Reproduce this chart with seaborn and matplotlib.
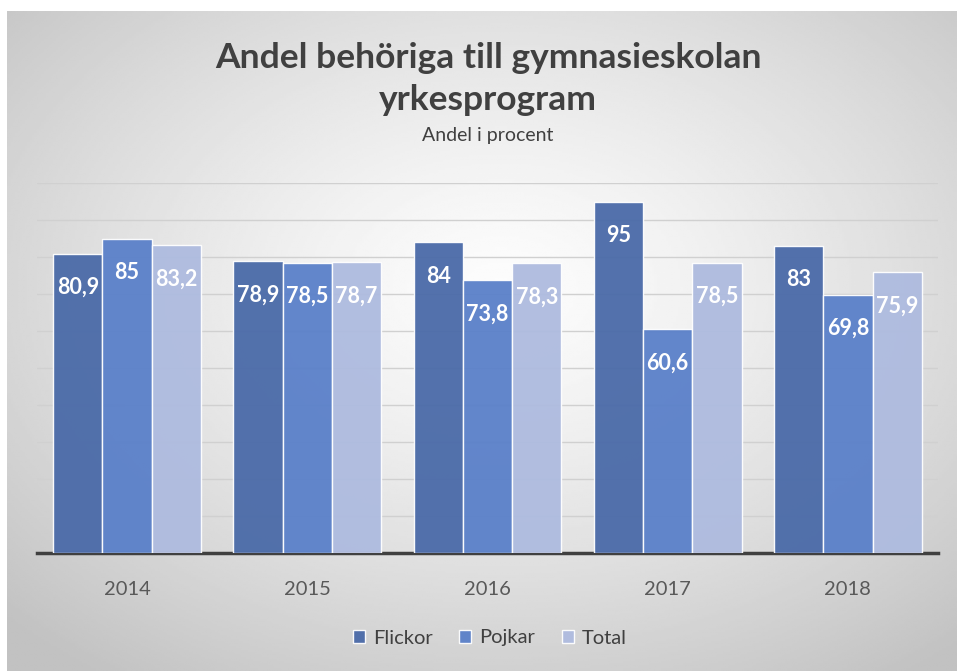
import numpy as np
import pandas as pd
import matplotlib
matplotlib.use('Agg')
import matplotlib.pyplot as plt
import seaborn as sns

years = ['2014', '2015', '2016', '2017', '2018']
flickor = [80.9, 78.9, 84, 95, 83]
pojkar = [85, 78.5, 73.8, 60.6, 69.8]
total = [83.2, 78.7, 78.3, 78.5, 75.9]
series = ['Flickor', 'Pojkar', 'Total']
colors = ['#4a6aa8', '#5a80c9', '#aebbdf']


def fmt(v):
    return '{:g}'.format(v).replace('.', ',')


def main():
    sns.set_style('white')
    plt.rcParams['font.family'] = ['Lato', 'DejaVu Sans']

    df = pd.DataFrame({
        'year': years * 3,
        'serie': [s for s in series for _ in years],
        'value': flickor + pojkar + total,
    })

    fig = plt.figure(figsize=(9.57, 6.71), dpi=100)
    fig.patch.set_facecolor('white')

    # radial grey gradient behind the chart
    bg = fig.add_axes([7 / 957, 0, 950 / 957, 660 / 671])
    yy, xx = np.mgrid[0:1:300j, 0:1:400j]
    r = np.sqrt(((xx - 0.52) / 0.75) ** 2 + ((yy - 0.42) / 0.75) ** 2)
    shade = np.clip(0.99 - 0.24 * r ** 1.3, 0.76, 1)
    bg.imshow(shade, cmap='gray', vmin=0, vmax=1, aspect='auto', extent=[0, 1, 1, 0])
    bg.set_axis_off()

    ax = fig.add_axes([37 / 957, 1 - 553 / 671, 901 / 957, (553 - 183) / 671])
    ax.set_facecolor('none')
    sns.barplot(data=df, x='year', y='value', hue='serie', palette=colors,
                saturation=1, width=0.82, edgecolor='white', linewidth=1,
                alpha=0.95, ax=ax, legend=True, zorder=3)
    ax.set_ylim(0, 100)
    ax.set_yticks(np.arange(0, 101, 10))
    ax.yaxis.grid(True, color='#d0d0d0', linewidth=1, zorder=0)
    ax.set_axisbelow(True)
    ax.set_yticklabels([])
    ax.tick_params(axis='y', length=0)
    ax.tick_params(axis='x', length=0, labelsize=14.5, labelcolor='#595959', pad=20)
    for s in ['top', 'right', 'left']:
        ax.spines[s].set_visible(False)
    ax.spines['bottom'].set_color('#404040')
    ax.spines['bottom'].set_linewidth(2.5)
    ax.set_xlabel('')
    ax.set_ylabel('')

    for cont in ax.containers:
        ax.bar_label(cont, labels=[fmt(b.get_height()) for b in cont],
                     padding=-32, color='white', fontsize=15.5, fontweight='bold')

    handles, labels = ax.get_legend_handles_labels()
    ax.get_legend().remove()
    fig.legend(handles, labels, loc='center', bbox_to_anchor=(490 / 957, 1 - 638 / 671),
               ncol=3, frameon=False, fontsize=14.5, handlelength=0.6, handleheight=0.6,
               handletextpad=0.4, columnspacing=1.3, labelcolor='#404040')

    fig.text(488 / 957, 1 - 79 / 671, 'Andel behöriga till gymnasieskolan\nyrkesprogram',
             ha='center', va='center', fontsize=25.5, fontweight='bold', color='#404040',
             linespacing=1.35)
    fig.text(488 / 957, 1 - 136 / 671, 'Andel i procent', ha='center', va='center',
             fontsize=14, color='#404040')

    fig.savefig('out.png', dpi=100)


if __name__ == '__main__':
    main()
